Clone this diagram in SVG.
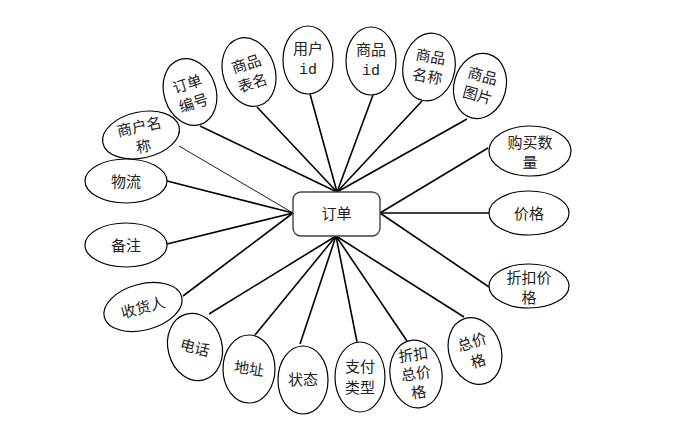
<svg xmlns="http://www.w3.org/2000/svg" width="686" height="430" viewBox="0 0 686 430">
<style>
.e{fill:#fff;stroke:#000;stroke-width:1.2}
.t{font-family:"Noto Sans CJK SC","Liberation Sans",sans-serif;font-size:15px;fill:#222;text-anchor:middle}
.m{font-family:"Liberation Mono",monospace;font-size:15px;fill:#222;text-anchor:middle}
.c line{stroke:#000;stroke-width:1.6}
</style>
<rect width="686" height="430" fill="#fff"/>
<g class="c" id="connectors">
<line x1="200" y1="126" x2="337" y2="192"/>
<line x1="257" y1="107" x2="337" y2="192"/>
<line x1="310" y1="94" x2="337" y2="192"/>
<line x1="373" y1="95" x2="337" y2="192"/>
<line x1="422" y1="101" x2="337" y2="192"/>
<line x1="467" y1="119" x2="337" y2="192"/>
<line x1="488" y1="148" x2="380" y2="213"/>
<line x1="489" y1="213" x2="380" y2="213"/>
<line x1="489" y1="287" x2="380" y2="213"/>
<line x1="179" y1="146" x2="293" y2="213" style="stroke-width:0.9"/>
<line x1="167" y1="181" x2="293" y2="213"/>
<line x1="167" y1="244" x2="293" y2="213"/>
<line x1="183" y1="296" x2="293" y2="213"/>
<line x1="209" y1="314" x2="336" y2="236"/>
<line x1="255" y1="335" x2="336" y2="236"/>
<line x1="300" y1="344" x2="336" y2="236"/>
<line x1="357" y1="342" x2="336" y2="236"/>
<line x1="407" y1="341" x2="336" y2="236"/>
<line x1="464" y1="317" x2="336" y2="236"/>
</g>
<g id="order">
<rect x="293" y="192" width="87" height="44" rx="8" fill="#fff" stroke="#444" stroke-width="1.4"/>
<text class="t" x="336.5" y="219">订单</text>
</g>
<g id="n-dingdanbianhao" transform="translate(190,92) rotate(-18)">
<ellipse class="e" rx="26" ry="34"/>
<text class="t" y="-3">订单</text><text class="t" y="17">编号</text>
</g>
<g id="n-shangpinbiaoming" transform="translate(249,72) rotate(-18)">
<ellipse class="e" rx="26" ry="35"/>
<text class="t" y="-3">商品</text><text class="t" y="17">表名</text>
</g>
<g id="n-yonghuid" transform="translate(308,60)">
<ellipse class="e" rx="25" ry="34"/>
<text class="t" y="-6">用户</text><text class="m" y="14">id</text>
</g>
<g id="n-shangpinid" transform="translate(371,61)">
<ellipse class="e" rx="25" ry="34"/>
<text class="t" y="-6">商品</text><text class="m" y="14">id</text>
</g>
<g id="n-shangpinmingcheng" transform="translate(429,67) rotate(10)">
<ellipse class="e" rx="26" ry="34"/>
<text class="t" y="-5">商品</text><text class="t" y="15">名称</text>
</g>
<g id="n-shangpintupian" transform="translate(480,86) rotate(15)">
<ellipse class="e" rx="26" ry="33"/>
<text class="t" y="-5">商品</text><text class="t" y="15">图片</text>
</g>
<g id="n-goumaishuliang" transform="translate(530,151)">
<ellipse class="e" rx="41" ry="25"/>
<text class="t" y="-3">购买数</text><text class="t" y="17">量</text>
</g>
<g id="n-jiage" transform="translate(529,213)">
<ellipse class="e" rx="40" ry="22"/>
<text class="t" y="6">价格</text>
</g>
<g id="n-zhekoujiage" transform="translate(529,286)">
<ellipse class="e" rx="40" ry="22"/>
<text class="t" y="-3">折扣价</text><text class="t" y="17">格</text>
</g>
<g id="n-shanghumingcheng" transform="translate(141,135) rotate(-12)">
<ellipse class="e" rx="39" ry="23"/>
<text class="t" y="-3">商户名</text><text class="t" y="17">称</text>
</g>
<g id="n-wuliu" transform="translate(126,181)">
<ellipse class="e" rx="41" ry="22"/>
<text class="t" y="6">物流</text>
</g>
<g id="n-beizhu" transform="translate(126,245)">
<ellipse class="e" rx="41" ry="22"/>
<text class="t" y="6">备注</text>
</g>
<g id="n-shouhuoren" transform="translate(143,307) rotate(-15)">
<ellipse class="e" rx="40" ry="23"/>
<text class="t" y="6">收货人</text>
</g>
<g id="n-dianhua" transform="translate(195,347) rotate(-15)">
<ellipse class="e" rx="27" ry="34"/>
<text class="t" y="6" transform="rotate(30)">电话</text>
</g>
<g id="n-dizhi" transform="translate(249,369)">
<ellipse class="e" rx="26" ry="34"/>
<text class="t" y="5" transform="rotate(8)">地址</text>
</g>
<g id="n-zhuangtai" transform="translate(303,380)">
<ellipse class="e" rx="25" ry="34"/>
<text class="t" y="5">状态</text>
</g>
<g id="n-zhifuleixing" transform="translate(360,377)">
<ellipse class="e" rx="25" ry="35"/>
<text class="t" y="-5">支付</text><text class="t" y="16">类型</text>
</g>
<g id="n-zhekouzongjiage" transform="translate(416,374) rotate(-8)">
<ellipse class="e" rx="26" ry="34"/>
<text class="t" y="-14">折扣</text><text class="t" y="5">总价</text><text class="t" y="24">格</text>
</g>
<g id="n-zongjiage" transform="translate(475,351) rotate(-18)">
<ellipse class="e" rx="26" ry="34"/>
<text class="t" y="-4">总价</text><text class="t" y="16">格</text>
</g>
</svg>
